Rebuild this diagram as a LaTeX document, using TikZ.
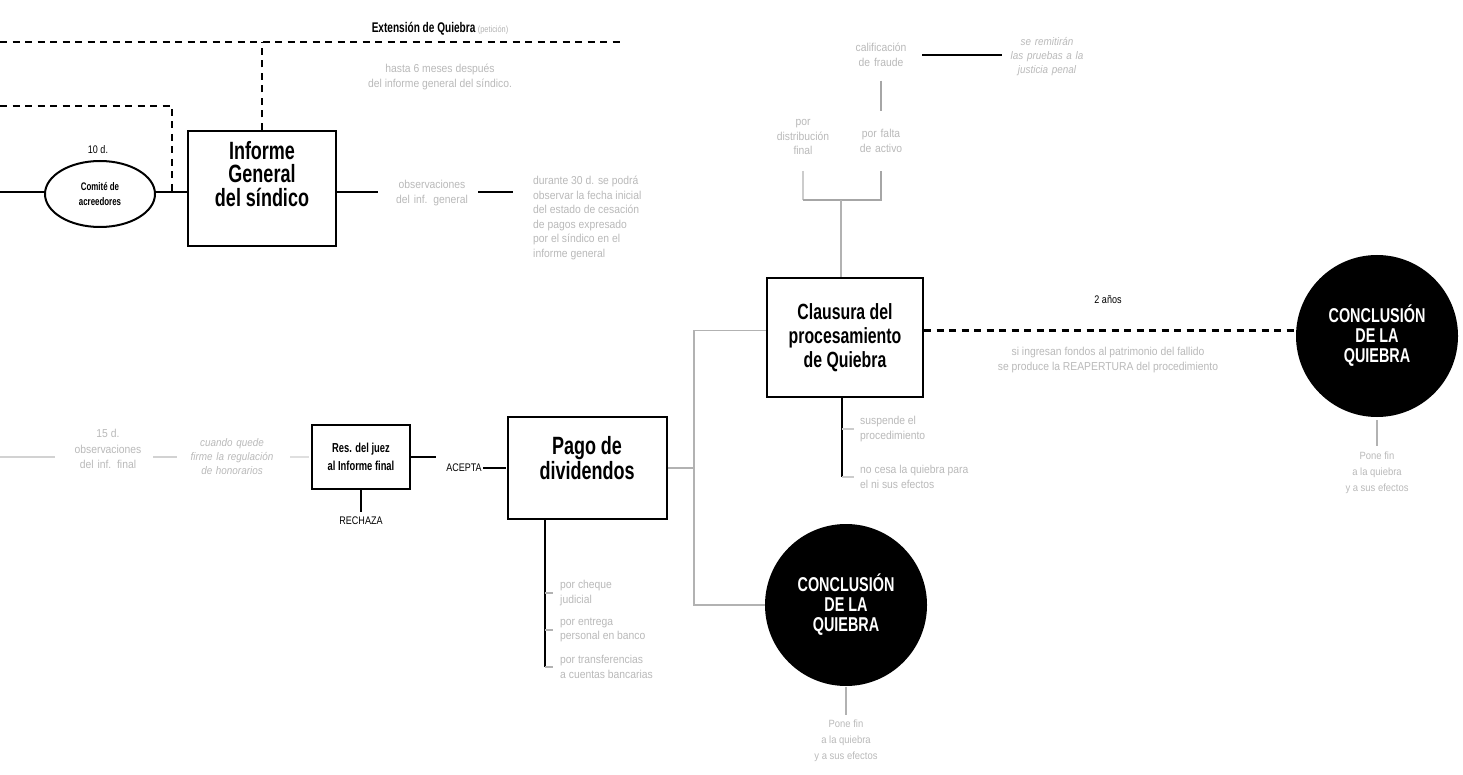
\documentclass[tikz,border=0pt]{standalone}
\usepackage{fontspec}
\setmainfont{Liberation Sans}
\newfontfamily\blockfont[FakeStretch=0.72]{Liberation Sans}
\newfontfamily\narrowfont[FakeStretch=0.82]{Liberation Sans}
\newfontfamily\softfont[FakeStretch=0.9]{Liberation Sans}
\usetikzlibrary{shapes.geometric}

\begin{document}
\begin{tikzpicture}[x=1pt,y=-1pt,
	mainbox/.style={draw,line width=2pt,inner sep=0pt},
	bigtext/.style={font=\blockfont\bfseries\fontsize{25}{23.5}\selectfont,align=center,inner sep=0pt},
	smalltag/.style={font=\narrowfont\fontsize{11}{13}\selectfont,inner sep=0pt},
	greynote/.style={font=\softfont\fontsize{11.5}{14.5}\selectfont,text=gray!55,align=center,inner sep=0pt},
	blackdot/.style={circle,fill=black,minimum size=162pt,inner sep=0pt,text=white,align=center,
		font=\blockfont\bfseries\fontsize{20}{20}\selectfont},
	wire/.style={line width=1.3pt},
	greywire/.style={line width=1.3pt,gray!60},
	dashwire/.style={line width=2.6pt,dash pattern=on 7pt off 5.5pt}]

	\useasboundingbox (0,0) rectangle (1463,775);

	% extension de quiebra
	\coordinate (ext0) at (0,42);
	\coordinate (ext1) at (622,42);
	\coordinate (ret0) at (0,106);
	\coordinate (ret1) at (172,106);
	\coordinate (ret2) at (172,192);
	\node[smalltag] (ext) at (440,29) {{\blockfont\bfseries\fontsize{14}{14}\selectfont Extensión de Quiebra} {\color{gray!60}\fontsize{9}{9}\selectfont(petición)}};
	\node[greynote] (hasta) at (440,77) {hasta 6 meses después\\del informe general del síndico.};

	% informe general
	\coordinate (in0) at (0,192);
	\node[draw,ellipse,line width=2pt,minimum width=110pt,minimum height=66pt,inner sep=0pt,align=center,
		font=\blockfont\bfseries\fontsize{11}{15}\selectfont] (comite) at (100,194) {Comité de\\acreedores};
	\node[smalltag] (diez) at (98,150) {10 d.};
	\node[mainbox,minimum width=148pt,minimum height=115pt] (informe) at (262,188.5) {};
	\node[bigtext] (informetxt) at (262,174) {Informe\\General\\del síndico};
	\node[greynote,text width=90pt] (obsgen) at (432,193) {observaciones\\del inf. general};
	\node[greynote,align=left,anchor=north west] (durante) at (533,176)
		{durante 30 d. se podrá\\observar la fecha inicial\\del estado de cesación\\de pagos expresado\\por el síndico en el\\informe general};

	\draw[dashwire] (ext0) -- (ext1);
	\draw[dashwire] (informe.north) -- (informe.north |- ext0);
	\draw[dashwire] (ret0) -- (ret1) -- (ret2);
	\draw[wire] (in0) -- (in0 -| comite.west);
	\draw[wire] (in0 -| comite.east) -- (in0 -| informe.west);
	\draw[wire,shorten >=9pt] (in0 -| informe.east) -- (in0 -| obsgen.west);
	\draw[wire,shorten <=1pt,shorten >=20pt] (in0 -| obsgen.east) -- (in0 -| durante.west);

	% informe final
	\coordinate (fin0) at (0,457);
	\node[greynote] (quince) at (108,433) {15 d.};
	\node[greynote,text width=76pt] (obsfin) at (108,457) {observaciones\\del inf. final};
	\node[greynote,text width=96pt,font=\softfont\itshape\fontsize{11}{14}\selectfont] (cuando) at (232,457) {cuando quede\\firme la regulación\\de honorarios};
	\node[mainbox,line width=1.6pt,minimum width=98pt,minimum height=64pt,align=center,
		font=\blockfont\bfseries\fontsize{13}{18}\selectfont] (res) at (361,457) {Res. del juez\\al Informe final};
	\node[smalltag] (acepta) at (464,468) {ACEPTA};
	\node[smalltag] (rechaza) at (361,521) {RECHAZA};

	\draw[greywire,gray!35,shorten >=15pt] (fin0) -- (obsfin.west);
	\draw[greywire,gray!35,shorten <=7pt,shorten >=7pt] (obsfin.east) -- (cuando.west);
	\draw[greywire,gray!25,shorten <=10pt,shorten >=2pt] (cuando.east) -- (res.west);
	\draw[wire,shorten >=10pt] (res.east) -- (res.east -| acepta.west);
	\draw[wire,shorten >=5pt] (res.south) -- (rechaza.north);

	% pago de dividendos
	\node[mainbox,minimum width=159pt,minimum height=102pt] (pago) at (587.5,468) {};
	\node[bigtext,font=\blockfont\bfseries\fontsize{25}{25}\selectfont] (pagotxt) at (587,458) {Pago de\\dividendos};
	\coordinate (pb) at (545,667);
	\node[greynote,align=left,anchor=west] (cheque) at (560,593) {por cheque\\judicial};
	\node[greynote,align=left,anchor=west] (entrega) at (560,630) {por entrega\\personal en banco};
	\node[greynote,align=left,anchor=west] (transf) at (560,667) {por transferencias\\a cuentas bancarias};

	\draw[wire,shorten <=1pt,shorten >=1pt] (acepta.east) -- (pago.west);
	\draw[wire] (pago.south -| pb) -- (pb);
	\foreach \t in {cheque,entrega,transf}
		\draw[greywire] (\t.west -| pb) -- ([xshift=-7pt]\t.west);

	% clausura
	\coordinate (sp) at (694,468);
	\coordinate (join) at (841,200);
	\coordinate (cb) at (842,477);
	\node[mainbox,minimum width=156pt,minimum height=119pt,align=center,
		font=\blockfont\bfseries\fontsize{22}{24}\selectfont] (clausura) at (845,337.5) {Clausura del\\procesamiento\\de Quiebra};
	\node[greynote,text width=60pt] (fraude) at (881,55) {calificación\\de fraude};
	\node[greynote,text width=80pt,font=\softfont\itshape\fontsize{11}{14}\selectfont] (penal) at (1047,57) {se remitirán\\las pruebas a la\\justicia penal};
	\node[greynote,text width=60pt] (falta) at (881,141) {por falta\\de activo};
	\node[greynote,text width=70pt] (distrib) at (803,137) {por\\distribución\\final};
	\node[greynote,align=left,anchor=west] (suspende) at (860,429) {suspende el\\procedimiento};
	\node[greynote,align=left,anchor=west] (nocesa) at (860,477) {no cesa la quiebra para\\el ni sus efectos};

	\draw[wire,shorten <=11pt,shorten >=5pt] (fraude.east) -- (fraude.east -| penal.west);
	\draw[wire,gray!70,shorten <=14pt,shorten >=18pt] (fraude.south) -- (falta.north);
	\draw[greywire,gray!40] ([yshift=-16pt]distrib.south) -- (distrib.south |- join);
	\draw[wire,gray!70] (distrib.south |- join) -- (falta.south |- join) -- ([yshift=-18pt]falta.south);
	\draw[greywire] (join) -- (clausura.north -| join);
	\draw[greywire] ([yshift=7pt]clausura.west) -| (sp);
	\draw[greywire] (pago.east) -- (sp);
	\draw[wire] (clausura.south -| cb) -- (cb);
	\foreach \t in {suspende,nocesa}
		\draw[greywire,gray!40] (\t.west -| cb) -- ([xshift=-6pt]\t.west);

	% conclusion
	\node[blackdot] (conc1) at (846,605) {CONCLUSIÓN\\DE LA\\QUIEBRA};
	\node[blackdot] (conc2) at (1377,336) {CONCLUSIÓN\\DE LA\\QUIEBRA};
	\node[greynote,font=\softfont\fontsize{10.5}{16}\selectfont] (fin1) at (846,741) {Pone fin\\a la quiebra\\y a sus efectos};
	\node[greynote,font=\softfont\fontsize{10.5}{16}\selectfont] (fin2) at (1377,473) {Pone fin\\a la quiebra\\y a sus efectos};
	\node[smalltag] (anios) at (1108,300) {2 años};
	\node[greynote] (reaper) at (1108,360) {si ingresan fondos al patrimonio del fallido\\se produce la REAPERTURA del procedimiento};

	\draw[greywire] (sp) |- (conc1.west);
	\draw[dashwire] ([yshift=7pt]clausura.east) -- ([yshift=7pt]clausura.east -| conc2.west);
	\draw[greywire,shorten <=1pt,shorten >=5pt] (conc1.south) -- (fin1.north);
	\draw[greywire,shorten <=3pt,shorten >=6pt] (conc2.south) -- (fin2.north);

\end{tikzpicture}
\end{document}
